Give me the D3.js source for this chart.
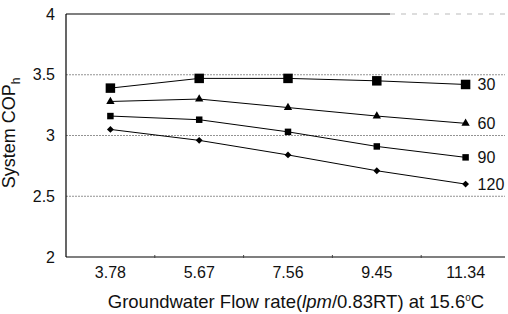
<!DOCTYPE html>
<html>
<head>
<meta charset="utf-8">
<script src="https://cdn.jsdelivr.net/npm/d3@7/dist/d3.min.js"></script>
<style>
	body { margin: 0; background: #fff; }
	text { font-family: "Liberation Sans", Arial, sans-serif; fill: #111; }
</style>
</head>
<body>
<div id="chart"></div>
<script>
const flowRates = ["3.78", "5.67", "7.56", "9.45", "11.34"];
const yTicks = [2, 2.5, 3, 3.5, 4];

const cop30 = [3.39, 3.47, 3.47, 3.45, 3.42];
const cop60 = [3.28, 3.30, 3.23, 3.16, 3.10];
const cop90 = [3.16, 3.13, 3.03, 2.91, 2.82];
const cop120 = [3.05, 2.96, 2.84, 2.71, 2.60];

const diamond = d3.symbolDiamond2 || d3.symbolDiamond;

const series = [
	{ label: "30", values: cop30, symbol: d3.symbolSquare, size: 90 },
	{ label: "60", values: cop60, symbol: d3.symbolTriangle, size: 30 },
	{ label: "90", values: cop90, symbol: d3.symbolSquare, size: 42 },
	{ label: "120", values: cop120, symbol: diamond, size: 30 },
];

const width = 508;
const height = 314;
const margin = { top: 14, right: -2, bottom: 57, left: 66 };

const svg = d3
	.select("#chart")
	.append("svg")
	.attr("width", width)
	.attr("height", height);

const x = d3
	.scaleBand()
	.domain(flowRates)
	.range([margin.left, width - margin.right]);

const y = d3
	.scaleLinear()
	.domain([2, 4])
	.range([height - margin.bottom, margin.top]);

// dotted grid lines
svg.append("g")
	.selectAll("line")
	.data([2.5, 3, 3.5])
	.join("line")
	.attr("x1", margin.left)
	.attr("x2", 505)
	.attr("y1", (d) => y(d))
	.attr("y2", (d) => y(d))
	.attr("stroke", "#777")
	.attr("stroke-width", 0.8)
	.attr("stroke-dasharray", "2,1");

// frame: left, bottom, top
svg.append("line")
	.attr("x1", margin.left).attr("x2", margin.left)
	.attr("y1", y(4)).attr("y2", y(2))
	.attr("stroke", "#000").attr("stroke-width", 1.2);
svg.append("line")
	.attr("x1", margin.left).attr("x2", 505)
	.attr("y1", y(2)).attr("y2", y(2))
	.attr("stroke", "#000").attr("stroke-width", 1.2);
svg.append("line")
	.attr("x1", margin.left).attr("x2", 390)
	.attr("y1", y(4)).attr("y2", y(4))
	.attr("stroke", "#000").attr("stroke-width", 1.2);
svg.append("line")
	.attr("x1", 390).attr("x2", 505)
	.attr("y1", y(4)).attr("y2", y(4))
	.attr("stroke", "#aaa").attr("stroke-width", 0.8)
	.attr("stroke-dasharray", "5,6");

// x axis
const xAxis = svg
	.append("g")
	.attr("transform", `translate(0,${y(2)})`)
	.call(d3.axisBottom(x).tickSize(0).tickPadding(10));
xAxis.select(".domain").remove();
xAxis.selectAll("text").style("font-size", "16px");

// small tick marks between categories
svg.append("g")
	.selectAll("line")
	.data(flowRates.slice(1))
	.join("line")
	.attr("x1", (d) => x(d))
	.attr("x2", (d) => x(d))
	.attr("y1", y(2) - 2)
	.attr("y2", y(2) + 1)
	.attr("stroke", "#444");

// y axis
const yAxis = svg
	.append("g")
	.attr("transform", `translate(${margin.left},0)`)
	.call(d3.axisLeft(y).tickValues(yTicks).tickFormat(d3.format("")).tickSize(0).tickPadding(11));
yAxis.select(".domain").remove();
yAxis.selectAll("text").style("font-size", "16px");

// axis titles
const yTitle = svg
	.append("text")
	.attr("transform", `translate(15,133) rotate(-90)`)
	.attr("text-anchor", "middle")
	.style("font-size", "18px");
yTitle.append("tspan").text("System COP");
yTitle.append("tspan").attr("dy", 5).style("font-size", "12px").text("h");

const xTitle = svg
	.append("text")
	.attr("x", 296)
	.attr("y", 308)
	.attr("text-anchor", "middle")
	.style("font-size", "18.5px");
xTitle.append("tspan").text("Groundwater Flow rate(");
xTitle.append("tspan").style("font-style", "italic").text("lpm");
xTitle.append("tspan").text("/0.83RT) at 15.6");
xTitle.append("tspan").attr("dy", -7).style("font-size", "10px").text("o");
xTitle.append("tspan").attr("dy", 7).text("C");

// lines and markers
const line = d3
	.line()
	.x((d, i) => x(flowRates[i]) + x.bandwidth() / 2)
	.y((d) => y(d));

const grp = svg.selectAll(".series").data(series).join("g").attr("class", "series");

grp.append("path")
	.attr("fill", "none")
	.attr("stroke", "#000")
	.attr("stroke-width", 1)
	.attr("d", (d) => line(d.values));

grp.each(function (s) {
	d3.select(this)
		.selectAll("path.marker")
		.data(s.values)
		.join("path")
		.attr("class", "marker")
		.attr("transform", (d, i) => `translate(${x(flowRates[i]) + x.bandwidth() / 2},${y(d)})`)
		.attr("d", d3.symbol().type(s.symbol).size(s.size))
		.attr("fill", "#000");
});

grp.append("text")
	.attr("x", x(flowRates[4]) + x.bandwidth() / 2 + 12)
	.attr("y", (d) => y(d.values[4]) + 6)
	.style("font-size", "16px")
	.text((d) => d.label);
</script>
</body>
</html>
